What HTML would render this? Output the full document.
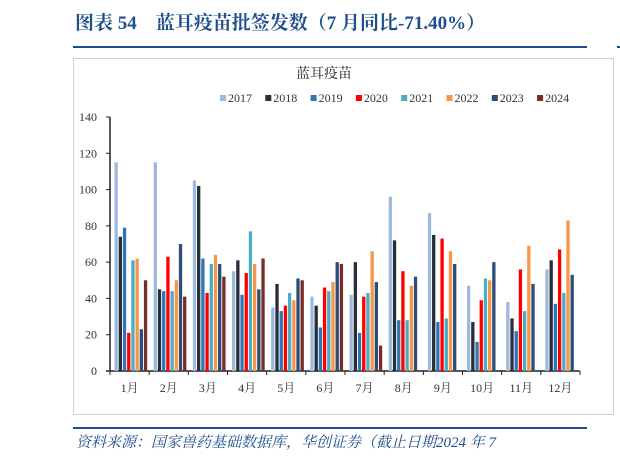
<!DOCTYPE html>
<html><head><meta charset="utf-8"><style>
body{margin:0;background:#fff;width:620px;height:460px;overflow:hidden;}
svg text{font-family:"Liberation Serif","Noto Serif CJK SC",serif;}
</style></head><body>
<svg id="c" width="620" height="460" xmlns="http://www.w3.org/2000/svg">
<text x="75" y="29" font-size="19" font-weight="bold" fill="#1f4e8c">图表 54　蓝耳疫苗批签发数（7 月同比-71.40%）</text>
<rect x="73" y="46" width="514" height="2" fill="#1f4e8c"/>
<rect x="617" y="46" width="3" height="2" fill="#1f4e8c"/>
<rect x="73.5" y="58.5" width="540" height="356" fill="none" stroke="#d0d0d0"/>
<text x="324" y="78" font-size="14" text-anchor="middle" fill="#222" font-family="Noto Serif CJK SC, serif">蓝耳疫苗</text>
<g id="legend"></g>
<g id="axes"></g>
<g id="bars"></g>
<rect x="73" y="427" width="514" height="2" fill="#1f4e8c"/>
<text x="76" y="447" font-size="15" font-style="italic" fill="#1f4e8c">资料来源：国家兽药基础数据库，华创证券（截止日期2024 年 7</text>
</svg>
<script>
const categories=["1月","2月","3月","4月","5月","6月","7月","8月","9月","10月","11月","12月"];
const seriesNames=["2017","2018","2019","2020","2021","2022","2023","2024"];
const s2017=[115,115,105,55,35,41,42,96,87,47,38,56];
const s2018=[74,45,102,61,48,36,60,72,75,27,29,61];
const s2019=[79,44,62,42,33,24,21,28,27,16,22,37];
const s2020=[21,63,43,54,36,46,41,55,73,39,56,67];
const s2021=[61,44,59,77,43,44,43,28,29,51,33,43];
const s2022=[62,50,64,59,39,49,66,47,66,50,69,83];
const s2023=[23,70,59,45,51,60,49,52,59,60,48,53];
const s2024=[50,41,52,62,50,59,14,null,null,null,null,null];
const yTicks=[0,20,40,60,80,100,120,140];
const series=[s2017,s2018,s2019,s2020,s2021,s2022,s2023,s2024];
const colors=["#9db9dd","#262e3a","#2e75b6","#ff0000","#4bacc6","#f79646","#2c4d75","#772c2a"];
const NS="http://www.w3.org/2000/svg";
const x0=110,x1=580,y0=371,y1=117,yMax=140;
const gw=(x1-x0)/categories.length;
const y=v=>y0-(v/yMax)*(y0-y1);
function mk(t,a,p){const e=document.createElementNS(NS,t);for(const k in a)e.setAttribute(k,a[k]);p.appendChild(e);return e;}
const ax=document.getElementById('axes'),bg=document.getElementById('bars'),lg=document.getElementById('legend');
let l=mk('line',{x1:x0,y1:y1,x2:x0,y2:y0,stroke:'#222','stroke-width':1.5},ax);


yTicks.forEach(v=>{
 let t=mk('line',{x1:x0-4,y1:y(v),x2:x0,y2:y(v),stroke:'#222'},ax);
 
 
 let tx=mk('text',{x:97,y:y(v)+4,'font-size':12,'text-anchor':'end',fill:'#333'},ax);tx.textContent=v;
 
 
});
l=mk('line',{x1:x0-4,y1:y0,x2:x1,y2:y0,stroke:'#222','stroke-width':1.5},ax);


for(let i=0;i<=categories.length;i++){
 let t=mk('line',{x1:x0+i*gw,y1:y0,x2:x0+i*gw,y2:y0+4,stroke:'#222'},ax);
 
 
}
categories.forEach((c,i)=>{
 let tx=mk('text',{x:x0+(i+0.5)*gw,y:y0+21,'font-size':12,'text-anchor':'middle',fill:'#333'},ax);tx.textContent=c;
 
 
 series.forEach((s,j)=>{
  const v=s[i]; if(v==null)return;
  const bx=x0+i*gw+4.5+j*4.2;
  let r=mk('rect',{x:bx,y:y(v),width:3.3,height:y0-y(v),fill:colors[j]},bg);
  
  
 });
});
seriesNames.forEach((n,j)=>{
 const lx=220+j*45.3;
 let g=mk('g',{},lg);
 
 
 mk('rect',{x:lx,y:95,width:6,height:6,fill:colors[j]},g);
 let tx=mk('text',{x:lx+8,y:102,'font-size':12,fill:'#333'},g);tx.textContent=n;
});
</script>
</body></html>
